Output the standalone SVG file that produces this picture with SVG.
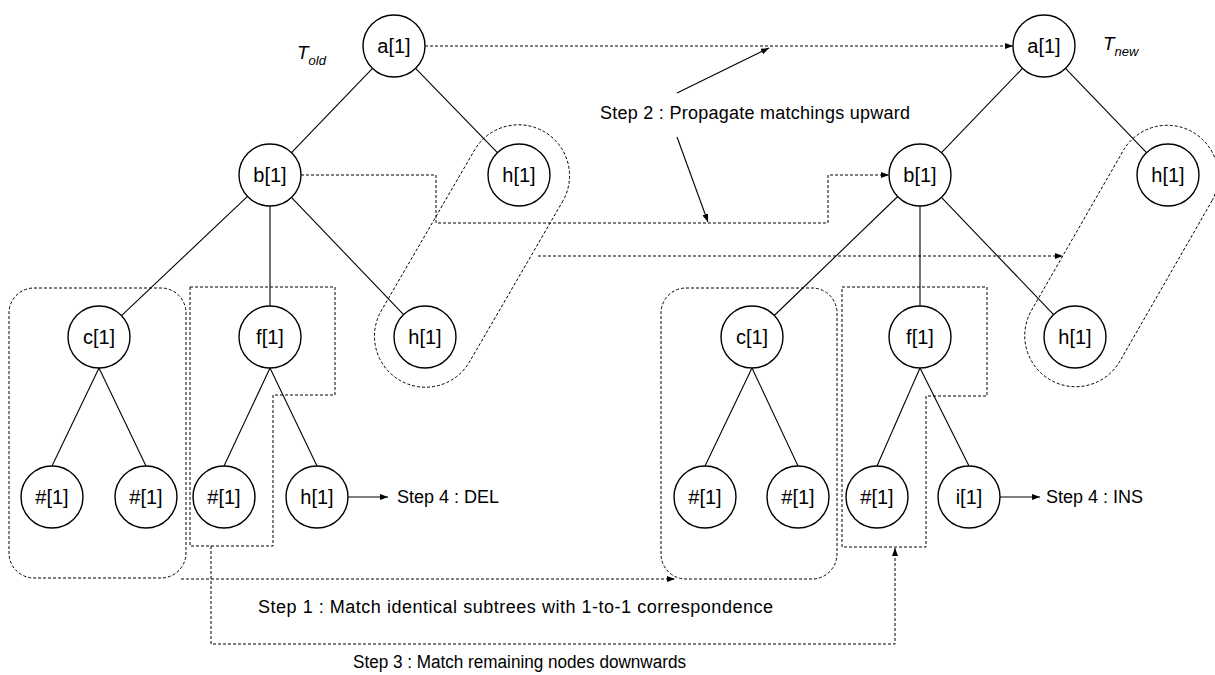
<svg xmlns="http://www.w3.org/2000/svg" width="1215" height="675" viewBox="0 0 1215 675">
<style>
.n circle{fill:#fff;stroke:#000;stroke-width:1.4}
.n text{font-family:"Liberation Sans",Arial,sans-serif;font-size:20px;text-anchor:middle;fill:#000}
.e line{stroke:#000;stroke-width:1.1}
.d{fill:none;stroke:#000;stroke-width:1;stroke-dasharray:3 2}
.s{fill:none;stroke:#000;stroke-width:1.1}
.lbl{font-family:"Liberation Sans",Arial,sans-serif;font-size:18px;fill:#000}
.tt{font-family:"Liberation Sans",Arial,sans-serif;font-style:italic;font-size:19px;fill:#000}
</style>
<defs>
<marker id="ah" markerUnits="userSpaceOnUse" markerWidth="8" markerHeight="6" refX="8" refY="3" orient="auto">
<path d="M0,0 L8,3 L0,6 z" fill="#000"/>
</marker>
</defs>
<rect width="1215" height="675" fill="#fff"/>

<g id="groups">
<rect class="d" x="9" y="288" width="177" height="290" rx="25"/>
<polygon class="d" points="190,287 335,287 335,395 273,395 273,546 190,546"/>
<rect class="d" x="661" y="288" width="176" height="291" rx="25"/>
<polygon class="d" points="842,287 987,287 987,396 926,396 926,547 842,547"/>
<path class="d" d="M563.1,200.6 L469.1,362.6 A51,51 0 0 1 380.9,311.4 L474.9,149.4 A51,51 0 0 1 563.1,200.6 Z"/>
<path class="d" d="M1212.2,200.4 L1119.2,362.4 A51,51 0 0 1 1030.8,311.6 L1123.8,149.6 A51,51 0 0 1 1212.2,200.4 Z"/>
</g>

<g id="edges" class="e">
<line x1="372.5" y1="68.4" x2="291.5" y2="152.6"/>
<line x1="415.6" y1="68.3" x2="497.4" y2="152.7"/>
<line x1="247.5" y1="196.3" x2="121.5" y2="315.7"/>
<line x1="270" y1="206" x2="270" y2="306"/>
<line x1="291.4" y1="197.4" x2="403.6" y2="314.6"/>
<line x1="99" y1="368" x2="52" y2="466"/>
<line x1="99" y1="368" x2="146" y2="466"/>
<line x1="270" y1="368" x2="224" y2="466"/>
<line x1="270" y1="368" x2="317" y2="466"/>
<line x1="1022.5" y1="68.4" x2="941.5" y2="152.6"/>
<line x1="1065.5" y1="68.4" x2="1146.5" y2="152.6"/>
<line x1="897.7" y1="196.5" x2="774.3" y2="315.5"/>
<line x1="920" y1="206" x2="920" y2="306"/>
<line x1="941.4" y1="197.4" x2="1053.6" y2="314.6"/>
<line x1="752" y1="368" x2="705" y2="466"/>
<line x1="752" y1="368" x2="798" y2="466"/>
<line x1="920" y1="368" x2="877" y2="466"/>
<line x1="920" y1="368" x2="969" y2="466"/>
</g>

<g id="connectors">
<path class="d" d="M425,46 H1013" marker-end="url(#ah)"/>
<path class="d" d="M301,175 H436 V223 H828 V175 H889" marker-end="url(#ah)"/>
<path class="d" d="M538,256 H1063" marker-end="url(#ah)"/>
<path class="d" d="M181,579 H675" marker-end="url(#ah)"/>
<path class="d" d="M211,546 V644 H895 V548" marker-end="url(#ah)"/>
<path class="s" d="M348,497 H388" marker-end="url(#ah)"/>
<path class="s" d="M1000,497 H1040" marker-end="url(#ah)"/>
<path class="s" d="M677,93 L769,48" marker-end="url(#ah)"/>
<path class="s" d="M677,137 L708,222" marker-end="url(#ah)"/>
</g>

<g id="old-a" class="n"><circle cx="394" cy="46" r="31"/><text x="394" y="53">a[1]</text></g>
<g id="old-b" class="n"><circle cx="270" cy="175" r="31"/><text x="270" y="182">b[1]</text></g>
<g id="old-h1" class="n"><circle cx="519" cy="175" r="31"/><text x="519" y="182">h[1]</text></g>
<g id="old-c" class="n"><circle cx="99" cy="337" r="31"/><text x="99" y="344">c[1]</text></g>
<g id="old-f" class="n"><circle cx="270" cy="337" r="31"/><text x="270" y="344">f[1]</text></g>
<g id="old-h2" class="n"><circle cx="425" cy="337" r="31"/><text x="425" y="344">h[1]</text></g>
<g id="old-s1" class="n"><circle cx="52" cy="497" r="31"/><text x="52" y="504">#[1]</text></g>
<g id="old-s2" class="n"><circle cx="146" cy="497" r="31"/><text x="146" y="504">#[1]</text></g>
<g id="old-s3" class="n"><circle cx="224" cy="497" r="31"/><text x="224" y="504">#[1]</text></g>
<g id="old-h3" class="n"><circle cx="317" cy="497" r="31"/><text x="317" y="504">h[1]</text></g>

<g id="new-a" class="n"><circle cx="1044" cy="46" r="31"/><text x="1044" y="53">a[1]</text></g>
<g id="new-b" class="n"><circle cx="920" cy="175" r="31"/><text x="920" y="182">b[1]</text></g>
<g id="new-h1" class="n"><circle cx="1168" cy="175" r="31"/><text x="1168" y="182">h[1]</text></g>
<g id="new-c" class="n"><circle cx="752" cy="337" r="31"/><text x="752" y="344">c[1]</text></g>
<g id="new-f" class="n"><circle cx="920" cy="337" r="31"/><text x="920" y="344">f[1]</text></g>
<g id="new-h2" class="n"><circle cx="1075" cy="337" r="31"/><text x="1075" y="344">h[1]</text></g>
<g id="new-s1" class="n"><circle cx="705" cy="497" r="31"/><text x="705" y="504">#[1]</text></g>
<g id="new-s2" class="n"><circle cx="798" cy="497" r="31"/><text x="798" y="504">#[1]</text></g>
<g id="new-s3" class="n"><circle cx="877" cy="497" r="31"/><text x="877" y="504">#[1]</text></g>
<g id="new-i" class="n"><circle cx="969" cy="497" r="31"/><text x="969" y="504">i[1]</text></g>

<g id="labels">
<text class="tt" x="297" y="59">T<tspan font-size="13" dy="6">old</tspan></text>
<text class="tt" x="1103" y="50">T<tspan font-size="13" dy="6">new</tspan></text>
<text class="lbl" x="600" y="119" textLength="310" lengthAdjust="spacing">Step 2 : Propagate matchings upward</text>
<text class="lbl" x="258" y="613" textLength="515" lengthAdjust="spacing">Step 1 : Match identical subtrees with 1-to-1 correspondence</text>
<text class="lbl" x="353" y="668" textLength="333" lengthAdjust="spacingAndGlyphs">Step 3 : Match remaining nodes downwards</text>
<text class="lbl" x="397" y="503">Step 4 : DEL</text>
<text class="lbl" x="1046" y="503">Step 4 : INS</text>
</g>
</svg>
